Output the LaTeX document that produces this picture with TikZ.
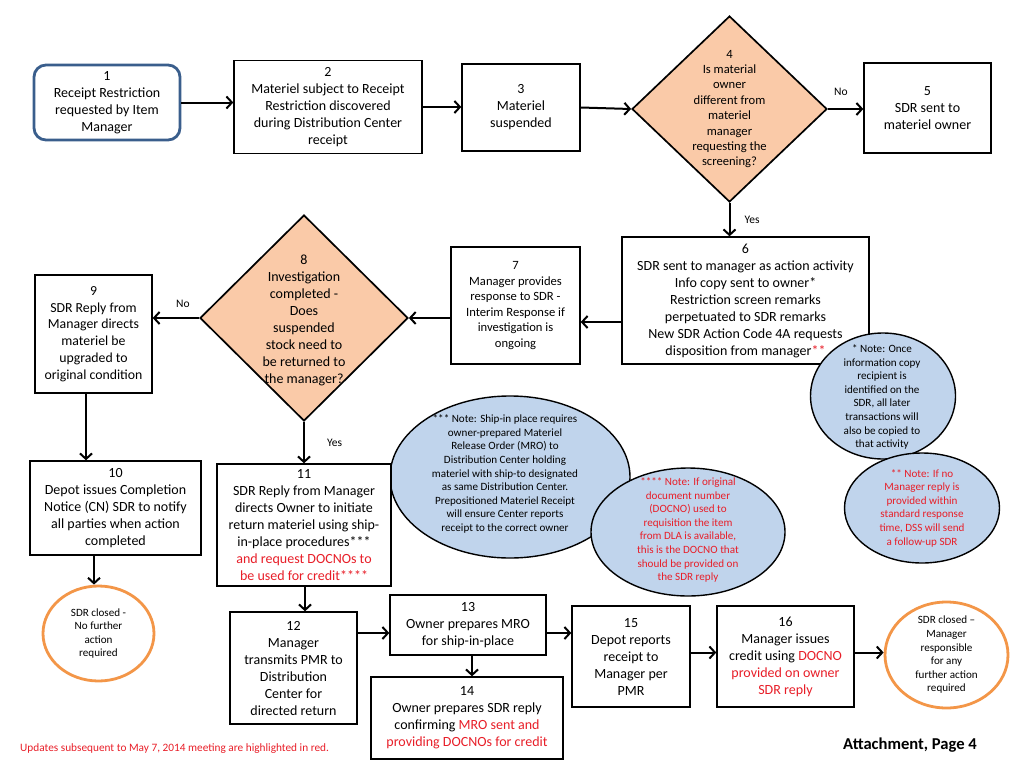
\documentclass[tikz,border=0pt]{standalone}
\usepackage{fontspec}
\setmainfont{Carlito}
\usetikzlibrary{shapes.geometric,arrows.meta}
\definecolor{redtxt}{RGB}{232,30,40}
\definecolor{peach}{RGB}{250,202,168}
\definecolor{lblue}{RGB}{192,212,236}
\definecolor{orng}{RGB}{243,150,72}
\definecolor{dblue}{RGB}{58,94,140}
\newcommand{\rd}[1]{\textcolor{redtxt}{#1}}
\begin{document}
\begin{tikzpicture}[x=1pt,y=-1pt,
  sz/.style 2 args={minimum width=#1pt, minimum height=#2pt},
  box/.style={draw, line width=1.4pt, align=center, inner sep=0pt, fill=white,
    font=\fontsize{14}{17}\selectfont},
  dia/.style={diamond, draw, line width=1.7pt, fill=peach, inner sep=0pt},
  note/.style={ellipse, draw, line width=1.4pt, fill=lblue, inner sep=0pt},
  endst/.style={ellipse, draw=orng, line width=2.8pt, fill=white, inner sep=0pt},
  txt/.style={align=center, inner sep=0pt, font=\fontsize{14}{17}\selectfont},
  txts/.style={align=center, inner sep=0pt, font=\fontsize{12.6}{15.4}\selectfont},
  ntxt/.style={align=center, inner sep=0pt, font=\fontsize{11.1}{13.6}\selectfont},
  lbl/.style={inner sep=0pt, font=\fontsize{11.5}{13}\selectfont},
  arr/.style={line width=2pt, -{Straight Barb[length=5.5pt,width=12pt]}}]
\useasboundingbox (0,0) rectangle (1024,768);

% top row
\node[box, sz={146}{75}, rounded corners=12pt, draw=dblue, line width=2.8pt] (n1) at (107,102.5)
  {1\\Receipt Restriction\\requested by Item\\Manager};
\node[box, sz={188}{93}] (n2) at (328,107)
  {2\\Materiel subject to Receipt\\Restriction discovered\\during Distribution Center\\receipt};
\node[box, sz={118}{87}] (n3) at (521,107.5) {3\\Materiel\\suspended};
\node[dia, sz={195}{186}] (d4) at (729.5,109) {};
\node[txts] (t4) at (d4.center) {4\\Is material\\owner\\different from\\materiel\\manager\\requesting the\\screening?};
\node[box, sz={127}{90}] (n5) at (927.5,108) {5\\SDR sent to\\materiel owner};

% middle row
\node[box, sz={247}{127}] (n6) at (745.5,300.5)
  {6\\SDR sent to manager as action activity\\Info copy sent to owner*\\Restriction screen remarks\\perpetuated to SDR remarks\\New SDR Action Code 4A requests\\disposition from manager\rd{**}};
\node[box, sz={129}{117}, font=\fontsize{12.6}{15.6}\selectfont] (n7) at (515.5,305.5)
  {7\\Manager provides\\response to SDR -\\Interim Response if\\investigation is\\ongoing};
\node[dia, sz={208}{206}] (d8) at (304,318) {};
\node[txt, font=\fontsize{14}{17}\selectfont] (t8) at ([yshift=-2pt]d8.center)
  {8\\Investigation\\completed -\\Does\\suspended\\stock need to\\be returned to\\the manager?};
\node[box, sz={117}{118}, font=\fontsize{13.8}{16.8}\selectfont] (n9) at (93.5,334)
  {9\\SDR Reply from\\Manager directs\\materiel be\\upgraded to\\original condition};

% notes
\node[note, sz={240}{162}] (e3) at (510,477) {};
\node[ntxt] (t3) at (505,474)
  {*** Note:  Ship-in place requires\\owner-prepared Materiel\\Release Order (MRO) to\\Distribution Center holding\\materiel with ship-to designated\\as same Distribution Center.\\Prepositioned Materiel Receipt\\will ensure Center reports\\receipt to the correct owner};
\node[note, sz={194}{128}] (e4) at (688,532) {};
\node[ntxt, text=redtxt] (t4n) at (688,530)
  {**** Note:  If original\\document number\\(DOCNO) used to\\requisition the item\\from DLA is available,\\this is the DOCNO that\\should be provided on\\the SDR reply};
\node[note, sz={145}{126}] (e1) at (883,396) {};
\node[ntxt] (t1n) at (882,397)
  {* Note:  Once\\information copy\\recipient is\\identified on the\\SDR, all later\\transactions will\\also be copied to\\that activity};
\node[note, sz={155}{110}] (e2) at (922,508) {};
\node[ntxt, text=redtxt] (t2n) at (e2.center)
  {** Note: If no\\Manager reply is\\provided within\\standard response\\time, DSS will send\\a follow-up SDR};

% lower rows
\node[box, sz={171}{94}] (n10) at (115.5,508)
  {10\\Depot issues Completion\\Notice (CN) SDR to notify\\all parties when action\\completed};
\node[endst, sz={111}{95}] (c1) at (98.5,633.5) {};
\node[ntxt] (tc1) at (c1.center) {SDR closed -\\No further\\action\\required};
\node[box, sz={174}{122}] (n11) at (304,525)
  {11\\SDR Reply from Manager\\directs Owner to initiate\\return materiel using ship-\\in-place procedures***\\\rd{and request DOCNOs to}\\\rd{be used for credit****}};
\node[box, sz={127}{112}] (n12) at (293.5,668)
  {12\\Manager\\transmits PMR to\\Distribution\\Center for\\directed return};
\node[box, sz={156}{60}] (n13) at (468,625) {13\\Owner prepares MRO\\for ship-in-place};
\node[box, sz={192}{82}] (n14) at (467,718)
  {14\\Owner prepares SDR reply\\confirming \rd{MRO sent and}\\\rd{providing DOCNOs for credit}};
\node[box, sz={118}{101}] (n15) at (631,656.5) {15\\Depot reports\\receipt to\\Manager per\\PMR};
\node[box, sz={137}{101}] (n16) at (785.5,656.5)
  {16\\Manager issues\\credit using \rd{DOCNO}\\\rd{provided on owner}\\\rd{SDR reply}};
\node[endst, sz={123}{106}] (c2) at (946.5,655) {};
\node[ntxt] (tc2) at (c2.center) {SDR closed --\\Manager\\responsible\\for any\\further action\\required};

% footer
\node[inner sep=0pt, anchor=west, text=redtxt, font=\fontsize{11.3}{13}\selectfont] (foot) at (20,749)
  {Updates subsequent to May 7, 2014 meeting are highlighted in red.};
\node[inner sep=0pt, anchor=west, font=\fontsize{16.6}{19}\selectfont\bfseries] (att) at (843,745)
  {Attachment, Page 4};

% connectors
\draw[arr] (n1.east) -- (n1.east -| n2.west);
\draw[arr] (n2.east) -- (n2.east -| n3.west);
\draw[arr] (n3.east) -- (d4.west);
\draw[arr] (d4.east) -- node[lbl, above=12pt, pos=0.37] (no4) {No} (d4.east -| n5.west);
\draw[arr] (d4.south) -- node[lbl, right=14pt, pos=0.5] (yes4) {Yes} (d4.south |- n6.north);
\draw[arr] ([yshift=-21.5pt]n6.west) -- ([yshift=-21.5pt]n6.west -| n7.east);
\draw[arr] (n7.west |- d8.east) -- (d8.east);
\draw[arr] (d8.west) -- node[lbl, above=9.5pt, pos=0.35] (no8) {No} (d8.west -| n9.east);
\draw[arr] ([xshift=-7.5pt]n9.south) -- ([xshift=-7.5pt]n9.south |- n10.north);
\draw[arr] ([xshift=-4.5pt]c1.north |- n10.south) -- ([xshift=-4.5pt]c1.north);
\draw[arr] (d8.south) -- node[lbl, right=22pt, pos=0.5] (yes8) {Yes} (d8.south |- n11.north);
\draw[arr] ([xshift=1pt]n11.south) -- ([xshift=1pt]n11.south |- n12.north);
\draw[arr] ([yshift=35pt]n12.east) -- ([yshift=35pt]n12.east -| n13.west);
\draw[arr] ([xshift=4pt]n13.south) -- ([xshift=4pt]n13.south |- n14.north);
\draw[arr] ([yshift=-8pt]n13.east) -- ([yshift=-8pt]n13.east -| n15.west);
\draw[arr] ([yshift=4pt]n15.east) -- ([yshift=4pt]n15.east -| n16.west);
\draw[arr] ([yshift=4pt]n16.east) -- ([yshift=4pt]n16.east -| c2.west);
\end{tikzpicture}
\end{document}
